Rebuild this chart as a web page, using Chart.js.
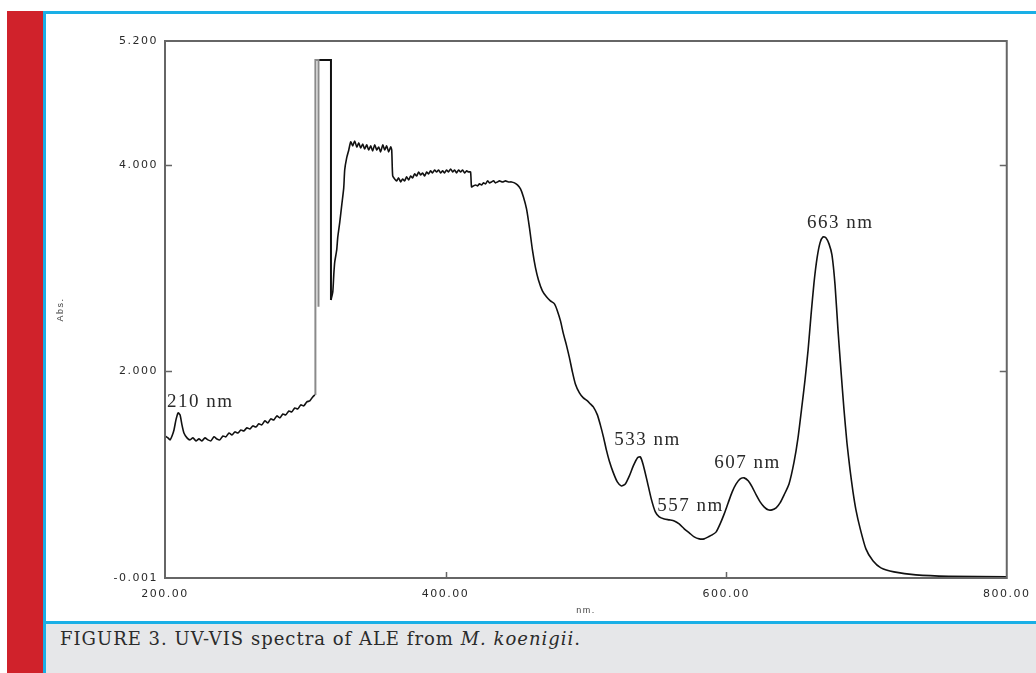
<!DOCTYPE html>
<html>
<head>
<meta charset="utf-8">
<script src="https://cdn.jsdelivr.net/npm/chart.js"></script>
<style>
  body { margin: 0; background: #fff; }
  #page { position: relative; width: 1036px; height: 673px; overflow: hidden; background: #fff; }
  .red { position: absolute; left: 7px; top: 11px; width: 36px; height: 662px; background: #d0222b; }
  .frame { position: absolute; left: 43px; top: 11px; width: 1000px; height: 662px;
           border-left: 3px solid #1aafe6; border-top: 3px solid #1aafe6; }
  .sep { position: absolute; left: 46px; top: 621px; width: 990px; height: 3px; background: #1aafe6; }
  .caption { position: absolute; left: 46px; top: 624px; width: 990px; height: 49px; background: #e6e7e9;
             font-family: "DejaVu Serif", serif; font-size: 18px; line-height: 18px; color: #2b2b2b;
             letter-spacing: 1px;
             padding-top: 6px; padding-left: 14px; box-sizing: border-box; white-space: nowrap; }
  .plot { position: absolute; left: 46px; top: 14px; width: 990px; height: 607px; }
</style>
</head>
<body>
<div id="page">
  <div class="red"></div>
  <div class="frame"></div>
  <div class="plot"><canvas id="uvChart" width="990" height="607"></canvas></div>
  <div class="sep"></div>
  <div class="caption">FIGURE 3. UV-VIS spectra of ALE from <i>M. koenigii</i>.</div>
</div>

<script>
    // spectrum (nm / Abs), null = break at the saturated spike
    const wavelength = [
        200.0, 202.1, 203.6, 205.0, 206.4, 207.8, 209.3, 210.7, 212.1, 213.5,
        215.7, 217.8, 219.9, 222.1, 224.2, 226.3, 228.5, 230.6, 232.7, 234.9,
        237.0, 239.1, 241.3, 243.4, 245.6, 247.7, 249.8, 252.0, 254.1, 256.2,
        258.4, 260.5, 262.6, 264.8, 266.9, 269.0, 271.2, 273.3, 275.4, 277.6,
        279.7, 281.9, 284.0, 286.1, 288.3, 290.4, 292.5, 294.7, 296.8, 298.9,
        301.1, 303.2, 305.3, 306.8, 308.0, 318.3, 319.6, 320.3,
        321.0, 322.4, 323.1, 324.6, 326.0, 327.4, 328.1, 329.5, 331.0, 332.4,
        333.8, 335.2, 336.7, 338.1, 339.5, 340.9, 342.3, 343.8, 345.2, 346.6,
        348.0, 349.5, 350.9, 352.3, 353.7, 355.2, 356.6, 358.0, 359.4, 360.9,
        361.6, 362.3, 363.7, 365.1, 366.5, 368.0, 369.4, 370.8, 372.2, 373.7,
        375.1, 376.5, 377.9, 379.4, 380.8, 382.2, 383.6, 385.1, 386.5, 387.9,
        389.3, 390.7, 392.2, 393.6, 395.0, 396.4, 397.9, 399.3, 400.7, 402.1,
        403.6, 405.0, 406.4, 407.8, 409.3, 410.7, 412.1, 413.5, 415.0, 416.4,
        417.8, 418.5, 419.9, 421.4, 422.8, 424.2, 425.6, 427.0, 428.5, 429.9,
        431.3, 432.7, 434.2, 435.6, 437.0, 438.4, 440.6, 442.7, 444.8, 447.0,
        449.1, 451.2, 453.4, 455.5, 457.7, 459.8, 461.9, 464.1, 466.2, 469.0,
        471.9, 474.7, 477.6, 479.7, 481.9, 484.0, 486.1, 488.3, 490.4, 492.5,
        495.4, 498.2, 501.1, 503.2, 505.3, 508.2, 510.3, 512.5, 514.6, 516.7,
        519.6, 522.4, 525.3, 528.1, 531.0, 533.8, 536.7, 538.8, 540.9, 543.8,
        546.6, 549.5, 552.3, 555.9, 559.4, 563.0, 566.5, 570.1, 573.7, 577.2,
        580.8, 584.3, 587.2, 590.0, 592.9, 595.7, 598.6, 601.4, 604.3, 607.1,
        610.0, 612.8, 615.7, 618.5, 621.4, 624.2, 627.0, 629.9, 632.7, 635.6,
        638.4, 641.3, 644.8, 648.4, 651.2, 654.1, 656.2, 658.4, 660.5, 662.6,
        664.8, 666.9, 669.0, 671.2, 673.3, 675.4, 677.6, 679.7, 681.9, 684.0,
        686.1, 688.3, 690.4, 692.5, 695.4, 699.6, 704.6, 710.3, 719.6, 735.2,
        758.7, 800.0
    ];
    const absorbance = [
        1.375, 1.356, 1.337, 1.375, 1.433, 1.530, 1.598, 1.579, 1.482, 1.404,
        1.356, 1.337, 1.356, 1.327, 1.346, 1.327, 1.356, 1.337, 1.327, 1.366,
        1.346, 1.337, 1.375, 1.366, 1.404, 1.385, 1.414, 1.404, 1.433, 1.424,
        1.453, 1.443, 1.472, 1.462, 1.492, 1.482, 1.521, 1.501, 1.540, 1.530,
        1.569, 1.550, 1.588, 1.579, 1.617, 1.608, 1.646, 1.637, 1.676, 1.666,
        1.705, 1.714, 1.753, 1.772, null,  2.692, 2.770, 2.935,
        3.060, 3.177, 3.293, 3.448, 3.613, 3.777, 3.952, 4.068, 4.145, 4.223,
        4.184, 4.232, 4.174, 4.213, 4.164, 4.203, 4.155, 4.194, 4.145, 4.184,
        4.136, 4.194, 4.145, 4.174, 4.126, 4.194, 4.145, 4.184, 4.126, 4.174,
        4.145, 3.893, 3.864, 3.845, 3.874, 3.835, 3.864, 3.845, 3.884, 3.855,
        3.893, 3.874, 3.913, 3.893, 3.932, 3.903, 3.922, 3.893, 3.932, 3.913,
        3.942, 3.922, 3.951, 3.932, 3.951, 3.922, 3.942, 3.922, 3.951, 3.932,
        3.961, 3.932, 3.951, 3.922, 3.951, 3.932, 3.951, 3.922, 3.942, 3.932,
        3.932, 3.787, 3.797, 3.806, 3.797, 3.816, 3.806, 3.826, 3.816, 3.845,
        3.826, 3.835, 3.845, 3.826, 3.835, 3.845, 3.835, 3.845, 3.835, 3.835,
        3.826, 3.806, 3.768, 3.690, 3.574, 3.390, 3.177, 3.002, 2.886, 2.780,
        2.722, 2.683, 2.654, 2.586, 2.489, 2.363, 2.257, 2.131, 1.995, 1.879,
        1.792, 1.743, 1.714, 1.685, 1.656, 1.579, 1.482, 1.366, 1.240, 1.133,
        1.017, 0.930, 0.891, 0.910, 0.988, 1.085, 1.162, 1.172, 1.094, 0.930,
        0.765, 0.639, 0.591, 0.571, 0.562, 0.552, 0.523, 0.475, 0.436, 0.397,
        0.378, 0.378, 0.397, 0.416, 0.446, 0.523, 0.620, 0.726, 0.833, 0.910,
        0.959, 0.969, 0.940, 0.881, 0.804, 0.736, 0.688, 0.659, 0.659, 0.678,
        0.726, 0.804, 0.910, 1.124, 1.356, 1.676, 1.918, 2.208, 2.547, 2.857,
        3.099, 3.245, 3.303, 3.293, 3.235, 3.128, 2.838, 2.402, 1.995, 1.627,
        1.307, 1.046, 0.833, 0.659, 0.484, 0.281, 0.165, 0.097, 0.058, 0.029,
        0.015, 0.010
    ];
    // over-range spike: grey rising edge, black top and falling edge
    const spikeNm = [307.2, 307.2, 309.4, 309.4];
    const spikeAbs = [1.772, 5.017, 5.017, 2.625];
    const overNm = [309.4, 318.3, 318.3];
    const overAbs = [5.017, 5.017, 2.692];

    const xTicks = [200, 400, 600, 800];
    const yTicks = [-0.001, 2.0, 4.0, 5.2];

    const peakText = ["210 nm", "533 nm", "557 nm", "607 nm", "663 nm"];
    const peakTextNm = [201.4, 520.3, 550.9, 591.5, 657.7];
    const peakTextAbs = [1.656, 1.288, 0.649, 1.065, 3.390];

    const toPoints = (xs, ys) => xs.map((x, i) => ({x: x, y: ys[i]}));

    const spacing = {
        id: "spacing",
        beforeDraw(chart) { chart.ctx.letterSpacing = "1.5px"; }
    };

    const frame = {
        id: "frame",
        afterDraw(chart) {
            const {ctx, chartArea: a, scales} = chart;
            ctx.save();
            ctx.letterSpacing = "0px";
            ctx.strokeStyle = "#666";
            ctx.lineWidth = 2;
            ctx.strokeRect(a.left, a.top, a.right - a.left, a.bottom - a.top);
            ctx.lineWidth = 1.5;
            ctx.beginPath();
            [400, 600].forEach(v => {
                const px = Math.round(scales.x.getPixelForValue(v)) + 0.5;
                ctx.moveTo(px, a.bottom); ctx.lineTo(px, a.bottom - 6);
            });
            [2, 4].forEach(v => {
                const py = Math.round(scales.y.getPixelForValue(v)) + 0.5;
                ctx.moveTo(a.left, py); ctx.lineTo(a.left + 7, py);
                ctx.moveTo(a.right, py); ctx.lineTo(a.right - 7, py);
            });
            ctx.stroke();
            ctx.restore();
        }
    };

    const peakLabels = {
        id: "peakLabels",
        afterDatasetsDraw(chart) {
            const {ctx, scales} = chart;
            ctx.save();
            ctx.letterSpacing = "1.5px";
            ctx.font = '19px "Liberation Serif"';
            ctx.fillStyle = "#2a2a2a";
            ctx.textAlign = "left";
            ctx.textBaseline = "alphabetic";
            peakText.forEach((t, i) => {
                ctx.fillText(t, scales.x.getPixelForValue(peakTextNm[i]), scales.y.getPixelForValue(peakTextAbs[i]));
            });
            ctx.restore();
        }
    };

    const tickFont = {family: "DejaVu Sans", size: 11};

    new Chart("uvChart", {
        type: "line",
        data: {
            datasets: [{
                data: toPoints(wavelength, absorbance),
                borderColor: "#111",
                borderWidth: 1.6,
                pointRadius: 0,
                tension: 0.2,
                spanGaps: false,
                fill: false
            }, {
                data: toPoints(spikeNm, spikeAbs),
                borderColor: "#8a8a8a",
                borderWidth: 2,
                pointRadius: 0,
                fill: false
            }, {
                data: toPoints(overNm, overAbs),
                borderColor: "#111",
                borderWidth: 2,
                pointRadius: 0,
                fill: false
            }]
        },
        options: {
            responsive: false,
            animation: false,
            layout: {padding: {left: 0, top: 27, right: 28, bottom: 0}},
            plugins: {legend: {display: false}, tooltip: {enabled: false}},
            scales: {
                x: {
                    type: "linear",
                    min: 200,
                    max: 800,
                    afterBuildTicks: s => { s.ticks = xTicks.map(v => ({value: v})); },
                    afterFit: s => { s.height = 43; },
                    grid: {display: false, drawTicks: false},
                    border: {display: false},
                    ticks: {
                        padding: 10,
                        color: "#2a2a2a",
                        font: tickFont,
                        maxRotation: 0,
                        autoSkip: false,
                        callback: v => Number(v).toFixed(2)
                    },
                    title: {display: true, text: "nm.", color: "#444", font: {family: "Liberation Sans", size: 9}, padding: {bottom: 5}}
                },
                y: {
                    min: -0.001,
                    max: 5.2,
                    afterBuildTicks: s => { s.ticks = yTicks.map(v => ({value: v})); },
                    afterFit: s => { s.width = 119; },
                    grid: {display: false, drawTicks: false},
                    border: {display: false},
                    ticks: {
                        padding: 7,
                        color: "#2a2a2a",
                        font: tickFont,
                        autoSkip: false,
                        callback: v => Number(v).toFixed(3)
                    },
                    title: {display: true, text: "Abs.", color: "#444", font: {family: "Liberation Sans", size: 9}, padding: {top: 9}}
                }
            }
        },
        plugins: [spacing, frame, peakLabels]
    });
</script>
</body>
</html>
